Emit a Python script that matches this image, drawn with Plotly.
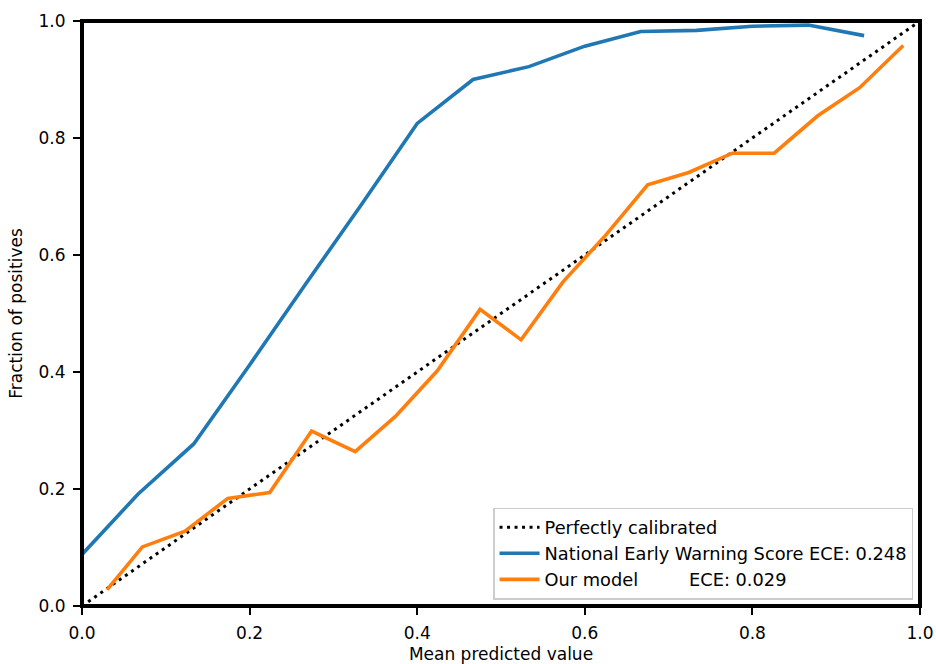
import plotly.graph_objects as go

# Data
diag_x = [0.0, 1.0]
diag_y = [0.0, 1.0]

news_x = [0.0, 0.0667, 0.1333, 0.2, 0.2667, 0.3333, 0.4, 0.4667, 0.5333, 0.6,
          0.6667, 0.7333, 0.8, 0.8667, 0.9333]
news_y = [0.088, 0.191, 0.277, 0.412, 0.550, 0.686, 0.825, 0.900, 0.922, 0.957,
          0.982, 0.984, 0.991, 0.993, 0.975]

model_x = [0.030, 0.072, 0.123, 0.174, 0.224, 0.274, 0.326, 0.374, 0.424, 0.475,
           0.524, 0.574, 0.625, 0.675, 0.724, 0.776, 0.826, 0.878, 0.928, 0.980]
model_y = [0.028, 0.101, 0.128, 0.184, 0.194, 0.299, 0.264, 0.324, 0.402, 0.507,
           0.455, 0.554, 0.634, 0.720, 0.741, 0.774, 0.774, 0.838, 0.886, 0.958]

tick_vals = [0.0, 0.2, 0.4, 0.6, 0.8, 1.0]
tick_text = ["0.0", "0.2", "0.4", "0.6", "0.8", "1.0"]

NB = "\u00a0"
names = ["Perfectly calibrated",
         "National Early Warning Score ECE: 0.248",
         "Our model" + NB * 9 + "ECE: 0.029"]

FONT = "DejaVu Sans"
FS = 17

fig = go.Figure()
fig.add_trace(go.Scatter(x=diag_x, y=diag_y, mode="lines", name=names[0],
                         legendgroup="a",
                         line=dict(color="black", width=3, dash="3px,4.5px")))
fig.add_trace(go.Scatter(x=news_x, y=news_y, mode="lines", name=names[1],
                         legendgroup="b",
                         line=dict(color="#1f77b4", width=3.6)))
fig.add_trace(go.Scatter(x=model_x, y=model_y, mode="lines", name=names[2],
                         legendgroup="c",
                         line=dict(color="#ff7f0e", width=3.6)))

axis_common = dict(
    range=[0, 1], showgrid=False, zeroline=False, showline=False,
    automargin=False,
    ticks="outside", ticklen=8, tickwidth=1.5, tickcolor="black",
    tickvals=tick_vals, ticktext=tick_text,
    tickfont=dict(family=FONT, size=FS, color="black"),
)

fig.update_layout(
    width=936, height=664,
    margin=dict(l=82, r=16, t=21, b=58),
    paper_bgcolor="white", plot_bgcolor="white",
    font=dict(family=FONT, size=FS, color="black"),
    xaxis=dict(**axis_common, ticklabelstandoff=4,
               title=dict(text="Mean predicted value", standoff=14,
                          font=dict(family=FONT, size=FS))),
    yaxis=dict(**axis_common, ticklabelstandoff=4,
               title=dict(text="Fraction of positives", standoff=11,
                          font=dict(family=FONT, size=FS))),
    legend=dict(x=0.9917, y=0.011, xanchor="right", yanchor="bottom",
                bgcolor="rgba(255,255,255,0.8)", bordercolor="#cccccc",
                borderwidth=1.5, traceorder="grouped", tracegroupgap=0,
                itemwidth=40,
                font=dict(family=FONT, size=17.8, color="black")),
    shapes=[dict(type="rect", xref="paper", yref="paper", x0=0, x1=1, y0=0, y1=1,
                 line=dict(color="black", width=4), layer="above")],
    showlegend=True,
)

fig.write_html("out.html")
